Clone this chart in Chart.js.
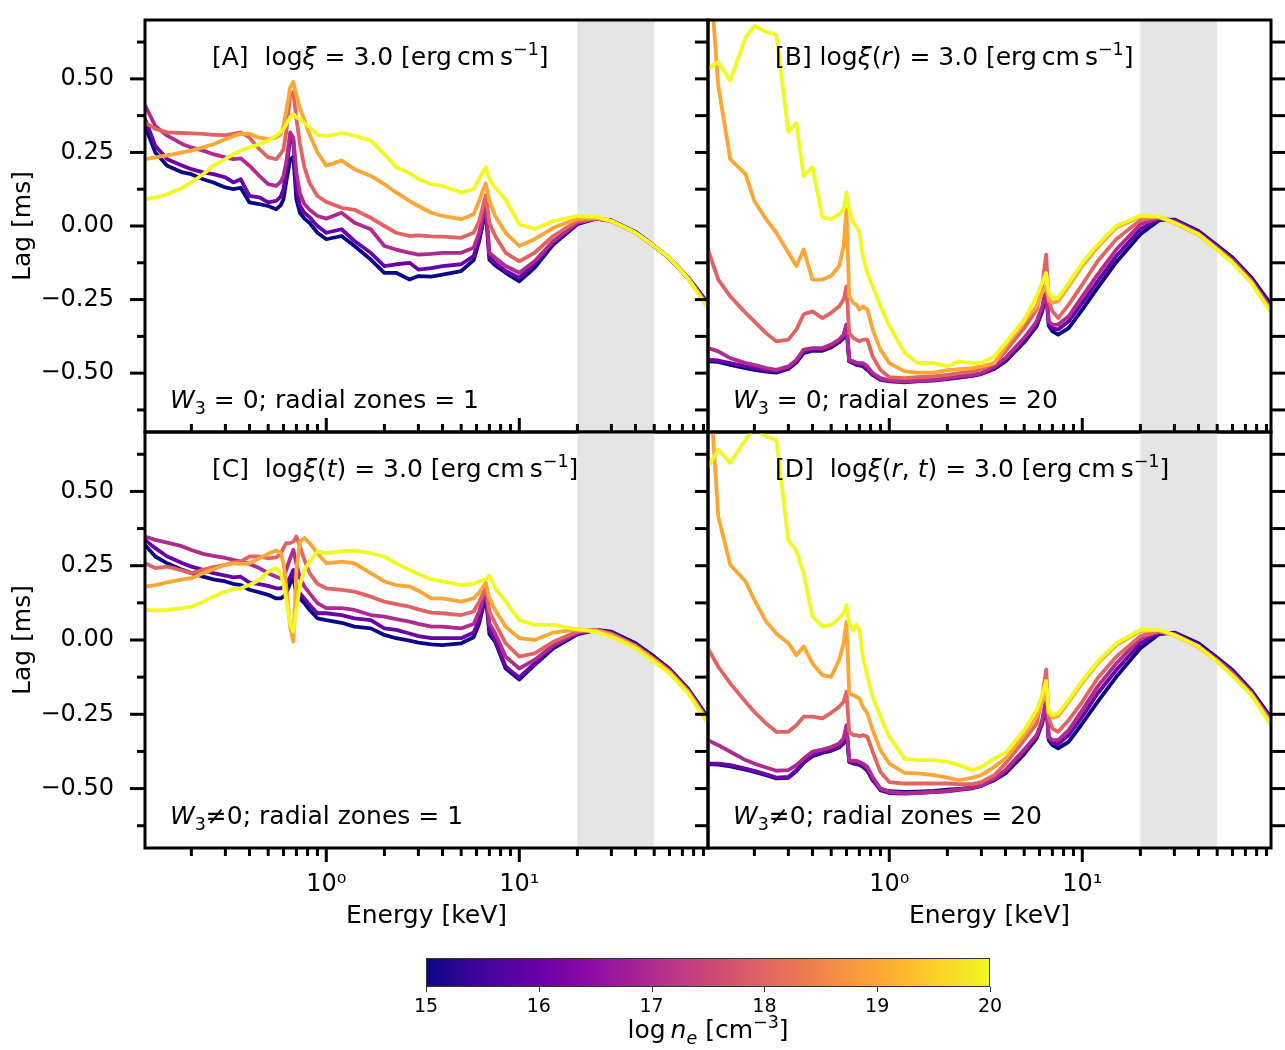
<!DOCTYPE html>
<html>
<head>
<meta charset="utf-8">
<script src="https://cdn.jsdelivr.net/npm/chart.js@4.4.1/dist/chart.umd.min.js"></script>
<style>
  html, body { margin: 0; padding: 0; background: #fff; }
  #wrap { position: relative; width: 1285px; height: 1050px; }
  #wrap canvas { position: absolute; left: 0; top: 0; }
</style>
</head>
<body>
<div id="wrap">
  <canvas id="panelA" width="1285" height="1050"></canvas>
  <canvas id="panelB" width="1285" height="1050"></canvas>
  <canvas id="panelC" width="1285" height="1050"></canvas>
  <canvas id="panelD" width="1285" height="1050"></canvas>
  <canvas id="cbar" width="1285" height="1050"></canvas>
</div>
<script>
// energy grid (keV), shared by all panels
const energy = [0.115, 0.13, 0.15, 0.18, 0.2, 0.23, 0.26, 0.3, 0.33, 0.36, 0.4, 0.45, 0.5, 0.55, 0.58, 0.6, 0.62, 0.65, 0.675, 0.7, 0.73, 0.77, 0.82, 0.9, 1.0, 1.2, 1.4, 1.7, 2.0, 2.3, 2.7, 3.0, 3.5, 4.0, 5.0, 5.8, 6.2, 6.5, 6.7, 7.0, 7.5, 8.5, 10, 12, 15, 20, 25, 30, 40, 50, 60, 75, 95];
const logNe = [15, 16, 17, 18, 19, 20];

// [A] log xi = 3.0, W3 = 0, 1 zone
const lagA15 = [0.34, 0.25, 0.205, 0.182, 0.176, 0.159, 0.148, 0.131, 0.125, 0.13, 0.08, 0.074, 0.068, 0.057, 0.07, 0.091, 0.15, 0.227, 0.235, 0.09, 0.045, 0.025, 0.01, -0.023, -0.045, -0.034, -0.068, -0.114, -0.159, -0.159, -0.182, -0.17, -0.172, -0.165, -0.153, -0.116, -0.051, 0.015, 0.055, -0.114, -0.134, -0.159, -0.188, -0.142, -0.063, 0.006, 0.026, 0.019, -0.02, -0.067, -0.108, -0.175, -0.262];
const lagA16 = [0.364, 0.273, 0.227, 0.205, 0.193, 0.182, 0.176, 0.165, 0.148, 0.159, 0.102, 0.097, 0.08, 0.085, 0.10, 0.125, 0.19, 0.295, 0.29, 0.125, 0.07, 0.045, 0.03, 0.0, -0.023, -0.011, -0.051, -0.091, -0.136, -0.13, -0.125, -0.148, -0.143, -0.136, -0.13, -0.102, -0.045, 0.02, 0.06, -0.105, -0.125, -0.153, -0.176, -0.13, -0.057, 0.009, 0.025, 0.018, -0.022, -0.069, -0.11, -0.178, -0.265];
const lagA17 = [0.41, 0.34, 0.307, 0.278, 0.267, 0.256, 0.244, 0.233, 0.227, 0.23, 0.205, 0.17, 0.142, 0.136, 0.15, 0.17, 0.215, 0.318, 0.30, 0.182, 0.11, 0.075, 0.055, 0.034, 0.025, 0.045, 0.011, -0.011, -0.068, -0.08, -0.091, -0.097, -0.095, -0.091, -0.091, -0.074, -0.023, 0.04, 0.08, -0.091, -0.108, -0.136, -0.159, -0.12, -0.051, 0.011, 0.025, 0.017, -0.023, -0.069, -0.11, -0.179, -0.268];
const lagA18 = [0.352, 0.33, 0.318, 0.316, 0.315, 0.313, 0.31, 0.309, 0.313, 0.318, 0.30, 0.261, 0.233, 0.227, 0.245, 0.261, 0.32, 0.443, 0.455, 0.364, 0.28, 0.2, 0.145, 0.102, 0.082, 0.062, 0.055, 0.028, 0.0, -0.023, -0.034, -0.032, -0.035, -0.036, -0.04, -0.023, 0.017, 0.07, 0.105, 0.011, -0.034, -0.091, -0.12, -0.091, -0.034, 0.017, 0.026, 0.017, -0.023, -0.068, -0.109, -0.178, -0.272];
const lagA19 = [0.227, 0.233, 0.24, 0.25, 0.256, 0.267, 0.278, 0.295, 0.305, 0.313, 0.313, 0.30, 0.295, 0.30, 0.31, 0.34, 0.39, 0.47, 0.49, 0.443, 0.40, 0.36, 0.31, 0.25, 0.205, 0.222, 0.193, 0.17, 0.142, 0.114, 0.085, 0.068, 0.045, 0.034, 0.023, 0.04, 0.085, 0.125, 0.145, 0.085, 0.034, -0.023, -0.068, -0.045, -0.006, 0.025, 0.028, 0.017, -0.023, -0.068, -0.108, -0.177, -0.276];
const lagA20 = [0.09, 0.097, 0.108, 0.13, 0.148, 0.176, 0.205, 0.227, 0.244, 0.256, 0.267, 0.278, 0.29, 0.307, 0.32, 0.33, 0.345, 0.37, 0.38, 0.37, 0.363, 0.35, 0.335, 0.31, 0.305, 0.316, 0.307, 0.29, 0.244, 0.2, 0.18, 0.16, 0.142, 0.136, 0.114, 0.125, 0.16, 0.185, 0.2, 0.16, 0.13, 0.09, 0.005, -0.01, 0.017, 0.034, 0.032, 0.017, -0.023, -0.068, -0.108, -0.18, -0.28];

// [B] log xi(r) = 3.0, W3 = 0, 20 zones
const lagB15 = [-0.46, -0.462, -0.472, -0.483, -0.489, -0.495, -0.498, -0.486, -0.464, -0.432, -0.424, -0.424, -0.413, -0.395, -0.381, -0.347, -0.46, -0.466, -0.472, -0.474, -0.477, -0.489, -0.506, -0.52, -0.525, -0.528, -0.526, -0.523, -0.518, -0.514, -0.508, -0.502, -0.486, -0.46, -0.395, -0.341, -0.29, -0.222, -0.339, -0.358, -0.369, -0.347, -0.284, -0.21, -0.123, -0.028, 0.02, 0.022, -0.017, -0.066, -0.107, -0.174, -0.267];
const lagB16 = [-0.455, -0.457, -0.466, -0.477, -0.483, -0.491, -0.494, -0.483, -0.46, -0.426, -0.42, -0.42, -0.409, -0.392, -0.375, -0.335, -0.46, -0.466, -0.468, -0.472, -0.475, -0.486, -0.506, -0.523, -0.528, -0.531, -0.528, -0.525, -0.52, -0.515, -0.509, -0.503, -0.483, -0.455, -0.389, -0.335, -0.284, -0.218, -0.332, -0.347, -0.352, -0.324, -0.261, -0.188, -0.102, -0.011, 0.025, 0.019, -0.02, -0.07, -0.111, -0.18, -0.275];
const lagB17 = [-0.415, -0.426, -0.449, -0.466, -0.472, -0.483, -0.489, -0.477, -0.455, -0.42, -0.415, -0.415, -0.403, -0.386, -0.369, -0.335, -0.455, -0.46, -0.464, -0.466, -0.466, -0.477, -0.5, -0.517, -0.525, -0.528, -0.526, -0.523, -0.517, -0.511, -0.506, -0.5, -0.477, -0.449, -0.38, -0.324, -0.273, -0.21, -0.324, -0.335, -0.335, -0.307, -0.239, -0.165, -0.08, 0.006, 0.027, 0.016, -0.025, -0.075, -0.116, -0.184, -0.282];
const lagB18 = [-0.08, -0.182, -0.239, -0.295, -0.324, -0.364, -0.392, -0.386, -0.352, -0.30, -0.29, -0.313, -0.295, -0.273, -0.25, -0.205, -0.364, -0.38, -0.386, -0.392, -0.386, -0.386, -0.443, -0.489, -0.514, -0.517, -0.514, -0.511, -0.506, -0.50, -0.494, -0.486, -0.466, -0.426, -0.347, -0.284, -0.205, -0.097, -0.256, -0.29, -0.313, -0.267, -0.199, -0.12, -0.045, 0.02, 0.031, 0.011, -0.028, -0.077, -0.12, -0.188, -0.286];
const lagB19 = [0.95, 0.477, 0.227, 0.176, 0.085, 0.023, -0.023, -0.091, -0.136, -0.08, -0.182, -0.182, -0.17, -0.136, -0.068, 0.057, -0.239, -0.261, -0.267, -0.284, -0.273, -0.284, -0.352, -0.42, -0.466, -0.494, -0.498, -0.498, -0.49, -0.486, -0.483, -0.477, -0.466, -0.41, -0.324, -0.273, -0.227, -0.205, -0.25, -0.261, -0.256, -0.205, -0.136, -0.072, -0.006, 0.032, 0.03, 0.009, -0.03, -0.08, -0.123, -0.19, -0.29];
const lagB20 = [0.534, 0.557, 0.494, 0.64, 0.68, 0.66, 0.65, 0.32, 0.35, 0.17, 0.2, 0.03, 0.023, 0.04, 0.057, 0.114, 0.057, 0.011, 0.0, -0.023, -0.10, -0.16, -0.205, -0.273, -0.34, -0.43, -0.466, -0.466, -0.477, -0.46, -0.466, -0.466, -0.443, -0.398, -0.318, -0.239, -0.193, -0.16, -0.227, -0.244, -0.244, -0.193, -0.125, -0.063, 0.0, 0.036, 0.032, 0.011, -0.028, -0.08, -0.125, -0.193, -0.295];

// [C] log xi(t) = 3.0, W3 != 0, 1 zone
const lagC15 = [0.32, 0.281, 0.258, 0.236, 0.225, 0.213, 0.204, 0.197, 0.189, 0.185, 0.169, 0.16, 0.152, 0.14, 0.14, 0.146, 0.157, 0.191, 0.213, 0.152, 0.14, 0.124, 0.101, 0.073, 0.067, 0.058, 0.045, 0.039, 0.017, 0.006, -0.002, -0.009, -0.015, -0.017, -0.011, 0.009, 0.056, 0.112, 0.152, 0.02, -0.006, -0.096, -0.133, -0.084, -0.028, 0.019, 0.034, 0.028, -0.011, -0.056, -0.097, -0.164, -0.261];
const lagC16 = [0.337, 0.309, 0.281, 0.258, 0.247, 0.236, 0.225, 0.217, 0.211, 0.213, 0.193, 0.188, 0.182, 0.174, 0.174, 0.178, 0.185, 0.213, 0.236, 0.174, 0.157, 0.14, 0.118, 0.09, 0.09, 0.084, 0.073, 0.067, 0.039, 0.034, 0.022, 0.013, 0.006, 0.006, 0.006, 0.025, 0.067, 0.124, 0.163, 0.034, 0.0, -0.09, -0.126, -0.079, -0.022, 0.022, 0.034, 0.025, -0.016, -0.061, -0.101, -0.169, -0.265];
const lagC17 = [0.348, 0.337, 0.328, 0.315, 0.303, 0.29, 0.283, 0.276, 0.27, 0.264, 0.256, 0.242, 0.225, 0.213, 0.208, 0.213, 0.236, 0.275, 0.303, 0.258, 0.208, 0.18, 0.157, 0.124, 0.107, 0.107, 0.101, 0.084, 0.079, 0.07, 0.062, 0.054, 0.045, 0.045, 0.039, 0.054, 0.096, 0.14, 0.174, 0.056, 0.022, -0.056, -0.096, -0.067, -0.017, 0.025, 0.034, 0.022, -0.018, -0.063, -0.103, -0.171, -0.27];
const lagC18 = [0.258, 0.242, 0.247, 0.234, 0.225, 0.236, 0.245, 0.253, 0.261, 0.264, 0.281, 0.281, 0.275, 0.278, 0.29, 0.309, 0.326, 0.326, 0.331, 0.348, 0.315, 0.27, 0.225, 0.189, 0.174, 0.169, 0.163, 0.146, 0.129, 0.121, 0.112, 0.103, 0.092, 0.09, 0.084, 0.096, 0.129, 0.157, 0.185, 0.096, 0.056, -0.011, -0.056, -0.045, -0.006, 0.029, 0.034, 0.02, -0.02, -0.065, -0.106, -0.173, -0.272];
const lagC19 = [0.18, 0.185, 0.194, 0.204, 0.208, 0.225, 0.238, 0.253, 0.258, 0.256, 0.258, 0.275, 0.29, 0.301, 0.294, 0.258, 0.18, 0.045, -0.006, 0.236, 0.331, 0.343, 0.326, 0.292, 0.258, 0.264, 0.258, 0.225, 0.197, 0.185, 0.18, 0.166, 0.14, 0.14, 0.129, 0.14, 0.16, 0.18, 0.193, 0.14, 0.101, 0.045, 0.006, 0.0, 0.025, 0.036, 0.031, 0.017, -0.022, -0.067, -0.108, -0.175, -0.275];
const lagC20 = [0.101, 0.10, 0.101, 0.107, 0.112, 0.129, 0.146, 0.163, 0.171, 0.174, 0.185, 0.202, 0.23, 0.242, 0.225, 0.19, 0.135, 0.056, 0.028, 0.101, 0.185, 0.236, 0.264, 0.298, 0.292, 0.298, 0.301, 0.292, 0.281, 0.258, 0.236, 0.222, 0.204, 0.197, 0.185, 0.189, 0.197, 0.202, 0.204, 0.217, 0.174, 0.129, 0.067, 0.051, 0.051, 0.036, 0.028, 0.011, -0.028, -0.073, -0.112, -0.18, -0.281];

// [D] log xi(r,t) = 3.0, W3 != 0, 20 zones
const lagD15 = [-0.418, -0.419, -0.425, -0.436, -0.444, -0.455, -0.466, -0.464, -0.442, -0.413, -0.391, -0.38, -0.373, -0.362, -0.348, -0.303, -0.41, -0.416, -0.418, -0.42, -0.427, -0.44, -0.472, -0.501, -0.509, -0.511, -0.51, -0.508, -0.504, -0.501, -0.497, -0.49, -0.472, -0.449, -0.384, -0.331, -0.281, -0.208, -0.337, -0.354, -0.365, -0.343, -0.281, -0.208, -0.124, -0.028, 0.02, 0.025, -0.011, -0.06, -0.101, -0.169, -0.261];
const lagD16 = [-0.416, -0.416, -0.421, -0.433, -0.44, -0.452, -0.463, -0.461, -0.438, -0.41, -0.388, -0.376, -0.369, -0.357, -0.343, -0.292, -0.41, -0.413, -0.416, -0.418, -0.425, -0.438, -0.47, -0.506, -0.515, -0.517, -0.515, -0.512, -0.509, -0.504, -0.499, -0.491, -0.47, -0.444, -0.376, -0.326, -0.275, -0.204, -0.331, -0.346, -0.351, -0.32, -0.258, -0.18, -0.101, -0.011, 0.025, 0.022, -0.017, -0.065, -0.107, -0.174, -0.267];
const lagD17 = [-0.337, -0.354, -0.376, -0.404, -0.416, -0.429, -0.44, -0.438, -0.421, -0.399, -0.376, -0.369, -0.36, -0.348, -0.331, -0.287, -0.404, -0.407, -0.407, -0.41, -0.416, -0.427, -0.461, -0.5, -0.511, -0.515, -0.514, -0.511, -0.508, -0.503, -0.497, -0.489, -0.466, -0.438, -0.369, -0.32, -0.27, -0.197, -0.326, -0.337, -0.337, -0.303, -0.236, -0.157, -0.079, 0.006, 0.028, 0.02, -0.02, -0.067, -0.11, -0.178, -0.272];
const lagD18 = [-0.028, -0.09, -0.146, -0.208, -0.242, -0.281, -0.309, -0.309, -0.287, -0.258, -0.258, -0.264, -0.245, -0.225, -0.208, -0.174, -0.309, -0.32, -0.32, -0.324, -0.32, -0.326, -0.376, -0.444, -0.478, -0.483, -0.483, -0.483, -0.483, -0.485, -0.485, -0.478, -0.455, -0.416, -0.337, -0.281, -0.191, -0.099, -0.264, -0.298, -0.309, -0.27, -0.208, -0.129, -0.056, 0.013, 0.03, 0.018, -0.022, -0.07, -0.115, -0.18, -0.276];
const lagD19 = [0.95, 0.416, 0.253, 0.197, 0.135, 0.062, 0.022, -0.011, -0.051, -0.022, -0.079, -0.118, -0.124, -0.067, -0.011, 0.062, -0.18, -0.185, -0.191, -0.197, -0.225, -0.247, -0.303, -0.371, -0.416, -0.447, -0.449, -0.455, -0.463, -0.472, -0.463, -0.455, -0.427, -0.399, -0.32, -0.258, -0.208, -0.182, -0.247, -0.261, -0.256, -0.208, -0.144, -0.079, -0.017, 0.03, 0.033, 0.016, -0.024, -0.072, -0.118, -0.182, -0.281];
const lagD20 = [0.584, 0.64, 0.596, 0.674, 0.72, 0.685, 0.674, 0.337, 0.30, 0.225, 0.079, 0.045, 0.051, 0.073, 0.09, 0.118, 0.056, 0.034, 0.051, 0.034, -0.056, -0.124, -0.191, -0.258, -0.326, -0.399, -0.404, -0.404, -0.41, -0.421, -0.438, -0.427, -0.399, -0.38, -0.303, -0.236, -0.185, -0.137, -0.242, -0.253, -0.247, -0.202, -0.137, -0.073, -0.011, 0.034, 0.034, 0.017, -0.022, -0.073, -0.121, -0.185, -0.287];

const xMajor = [1, 10];
const xTickLabels = ['10\u2070', '10\u00B9'];
const yTicks = [-0.5, -0.25, 0, 0.25, 0.5];
const cbarTicks = [15, 16, 17, 18, 19, 20];
const band = [20, 50];

const lineColors = ['#0d0887', '#6a00a8', '#b12a90', '#e16462', '#fca636', '#f0f921'];
const plasmaStops = ['#0d0887', '#41049d', '#6a00a8', '#8f0da4', '#b12a90', '#cc4778', '#e16462', '#f2844b', '#fca636', '#fcce25', '#f0f921'];

Chart.defaults.font.family = '"DejaVu Sans", sans-serif';
Chart.defaults.color = '#000';

const W = 1285, H = 1050;
const FONT = '"DejaVu Sans", sans-serif';

function seg(ctx, x1, y1, x2, y2) {
  ctx.beginPath(); ctx.moveTo(x1, y1); ctx.lineTo(x2, y2); ctx.stroke();
}

// text with italic / sub / sup pieces
function richWidth(ctx, parts, size) {
  let w = 0;
  for (const p of parts) {
    const s = (p.sup || p.sub) ? size * 0.7 : size;
    ctx.font = (p.it ? 'italic ' : '') + s + 'px ' + FONT;
    w += ctx.measureText(p.t).width;
  }
  return w;
}
function drawRich(ctx, x, y, parts, size) {
  let cx = x;
  ctx.textAlign = 'left';
  ctx.textBaseline = 'alphabetic';
  for (const p of parts) {
    const s = (p.sup || p.sub) ? size * 0.7 : size;
    ctx.font = (p.it ? 'italic ' : '') + s + 'px ' + FONT;
    const dy = p.sup ? -size * 0.42 : p.sub ? size * 0.22 : 0;
    ctx.fillText(p.t, cx, y + dy);
    cx += ctx.measureText(p.t).width;
  }
}

function minorLogTicks(min, max) {
  const out = [];
  for (let d = -1; d <= 2; d++) {
    for (let m = 2; m <= 9; m++) {
      const v = m * Math.pow(10, d);
      if (v > min && v < max) out.push(v);
    }
  }
  return out;
}
const yMinor = [-0.625, -0.375, -0.125, 0.125, 0.375, 0.625];

function makeDecor(spec) {
  return {
    id: 'decor' + spec.key,
    beforeDatasetsDraw(chart) {
      const {ctx, chartArea: a, scales: {x}} = chart;
      const x0 = x.getPixelForValue(band[0]), x1 = x.getPixelForValue(band[1]);
      ctx.save();
      ctx.fillStyle = '#e5e5e5';
      ctx.fillRect(x0, a.top, x1 - x0, a.bottom - a.top);
      ctx.restore();
    },
    afterDatasetsDraw(chart) {
      const {ctx, chartArea: a, scales: {x, y}} = chart;
      ctx.save();
      ctx.strokeStyle = '#000';
      ctx.lineWidth = 3;
      // bottom x ticks: inward on top row, outward on bottom row
      const bd = spec.row === 1 ? 1 : -1;
      xMajor.forEach(v => { const p = x.getPixelForValue(v); seg(ctx, p, a.bottom, p, a.bottom + bd * 14); });
      minorLogTicks(x.min, x.max).forEach(v => { const p = x.getPixelForValue(v); seg(ctx, p, a.bottom, p, a.bottom + bd * 8); });
      if (spec.col === 0) {
        yTicks.forEach(v => { const p = y.getPixelForValue(v); seg(ctx, a.left, p, a.left - 15, p); });
        yMinor.forEach(v => { const p = y.getPixelForValue(v); seg(ctx, a.left, p, a.left - 8, p); });
        yTicks.concat(yMinor).forEach(v => { const p = y.getPixelForValue(v); seg(ctx, a.right, p, a.right - 13, p); });
      } else {
        yTicks.concat(yMinor).forEach(v => { const p = y.getPixelForValue(v); seg(ctx, a.right, p, a.right + 14, p); });
      }
      ctx.strokeRect(a.left, a.top, a.right - a.left, a.bottom - a.top);
      ctx.fillStyle = '#000';
      drawRich(ctx, a.left + 67, a.top + 45, spec.title, 25);
      drawRich(ctx, a.left + 25, a.bottom - 24, spec.note, 25);
      ctx.restore();
    }
  };
}

function makePanel(spec, series) {
  const showY = spec.col === 0, showX = spec.row === 1;
  const a = spec.area;
  const xScale = {
    type: 'logarithmic', min: 0.115, max: 95, display: showX,
    grid: {display: false, drawTicks: false}, border: {display: false},
    afterBuildTicks: s => { s.ticks = xMajor.map(v => ({value: v})); },
    ticks: {padding: 22, font: {size: 24}, autoSkip: false, maxRotation: 0, callback: (v, i) => xTickLabels[i]},
    title: {display: true, text: 'Energy [keV]', font: {size: 25}, padding: {top: 0, bottom: 17}}
  };
  if (showX) xScale.afterFit = s => { s.height = 100; };
  // tickLength (not drawn) pushes labels away from the spine without adding layout padding
  const yScale = {
    min: -0.7, max: 0.7, display: showY,
    grid: {display: false, drawTicks: true, tickLength: 28}, border: {display: false},
    afterBuildTicks: s => { s.ticks = yTicks.map(v => ({value: v})); },
    ticks: {padding: 3, font: {size: 24}, autoSkip: false,
      callback: v => (v < 0 ? '\u2212' : '') + Math.abs(v).toFixed(2)},
    title: {display: true, text: 'Lag [ms]', font: {size: 25}, padding: {top: 8, bottom: 0}}
  };
  if (showY) yScale.afterFit = s => { s.width = a.left; };

  new Chart(document.getElementById(spec.canvas), {
    type: 'line',
    data: {
      datasets: series.map((ys, i) => ({
        label: 'log ne = ' + logNe[i],
        data: energy.map((e, k) => ({x: e, y: ys[k]})),
        borderColor: lineColors[i],
        borderWidth: 3.8,
        borderJoinStyle: 'round',
        pointRadius: 0,
        fill: false,
        tension: 0,
        order: series.length - 1 - i
      }))
    },
    options: {
      responsive: false, animation: false, events: [], devicePixelRatio: 1,
      layout: {padding: {
        left: showY ? 0 : a.left, top: a.top, right: W - a.right,
        bottom: H - a.bottom - (showX ? 100 : 0)
      }},
      plugins: {legend: {display: false}, tooltip: {enabled: false}},
      scales: {x: xScale, y: yScale}
    },
    plugins: [makeDecor(spec)]
  });
}

const unitParts = [{t: ' = 3.0 [erg\u2009cm\u2009s'}, {t: '\u22121', sup: 1}, {t: ']'}];

makePanel({key: 'A', canvas: 'panelA', row: 0, col: 0, area: {left: 145, top: 20, right: 708, bottom: 432},
  title: [{t: '[A]  log'}, {t: '\u03BE', it: 1}].concat(unitParts),
  note: [{t: 'W', it: 1}, {t: '3', sub: 1}, {t: ' = 0; radial zones = 1'}]},
  [lagA15, lagA16, lagA17, lagA18, lagA19, lagA20]);

makePanel({key: 'B', canvas: 'panelB', row: 0, col: 1, area: {left: 708, top: 20, right: 1271, bottom: 432},
  title: [{t: '[B] log'}, {t: '\u03BE', it: 1}, {t: '('}, {t: 'r', it: 1}, {t: ')'}].concat(unitParts),
  note: [{t: 'W', it: 1}, {t: '3', sub: 1}, {t: ' = 0; radial zones = 20'}]},
  [lagB15, lagB16, lagB17, lagB18, lagB19, lagB20]);

makePanel({key: 'C', canvas: 'panelC', row: 1, col: 0, area: {left: 145, top: 432, right: 708, bottom: 848},
  title: [{t: '[C]  log'}, {t: '\u03BE', it: 1}, {t: '('}, {t: 't', it: 1}, {t: ')'}].concat(unitParts),
  note: [{t: 'W', it: 1}, {t: '3', sub: 1}, {t: '\u22600; radial zones = 1'}]},
  [lagC15, lagC16, lagC17, lagC18, lagC19, lagC20]);

makePanel({key: 'D', canvas: 'panelD', row: 1, col: 1, area: {left: 708, top: 432, right: 1271, bottom: 848},
  title: [{t: '[D]  log'}, {t: '\u03BE', it: 1}, {t: '('}, {t: 'r', it: 1}, {t: ', '}, {t: 't', it: 1}, {t: ')'}].concat(unitParts),
  note: [{t: 'W', it: 1}, {t: '3', sub: 1}, {t: '\u22600; radial zones = 20'}]},
  [lagD15, lagD16, lagD17, lagD18, lagD19, lagD20]);

// colour bar for log n_e
const cbarDecor = {
  id: 'cbarDecor',
  beforeDatasetsDraw(chart) {
    const {ctx, chartArea: a, scales: {x}} = chart;
    ctx.save();
    const g = ctx.createLinearGradient(a.left, 0, a.right, 0);
    plasmaStops.forEach((c, i) => g.addColorStop(i / (plasmaStops.length - 1), c));
    ctx.fillStyle = g;
    ctx.fillRect(a.left, a.top, a.right - a.left, a.bottom - a.top);
    ctx.strokeStyle = '#333';
    ctx.lineWidth = 1;
    ctx.strokeRect(a.left + 0.5, a.top + 0.5, a.right - a.left - 1, a.bottom - a.top - 1);
    cbarTicks.forEach(v => { const p = Math.round(x.getPixelForValue(v)) + 0.5; seg(ctx, p, a.bottom, p, a.bottom + 5); });
    ctx.fillStyle = '#000';
    const parts = [{t: 'log\u2009'}, {t: 'n', it: 1}, {t: 'e', it: 1, sub: 1}, {t: ' [cm'}, {t: '\u22123', sup: 1}, {t: ']'}];
    const w = richWidth(ctx, parts, 25);
    drawRich(ctx, (a.left + a.right) / 2 - w / 2, 1038, parts, 25);
    ctx.restore();
  }
};

new Chart(document.getElementById('cbar'), {
  type: 'line',
  data: {datasets: []},
  options: {
    responsive: false, animation: false, events: [], devicePixelRatio: 1,
    layout: {padding: {left: 426, right: W - 990, top: 958, bottom: 0}},
    plugins: {legend: {display: false}, tooltip: {enabled: false}},
    scales: {
      x: {type: 'linear', min: 15, max: 20,
        grid: {display: false, drawTicks: false}, border: {display: false},
        afterBuildTicks: s => { s.ticks = cbarTicks.map(v => ({value: v})); },
        afterFit: s => { s.height = H - 987; },
        ticks: {padding: 9, font: {size: 19}, autoSkip: false, maxRotation: 0}},
      y: {display: false, min: 0, max: 1}
    }
  },
  plugins: [cbarDecor]
});
</script>
</body>
</html>
